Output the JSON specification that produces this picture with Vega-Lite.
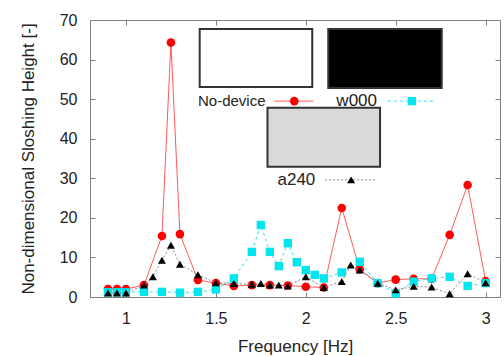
{
  "$schema": "https://vega.github.io/schema/vega-lite/v6.json",
  "width": 410,
  "height": 277,
  "autosize": "none",
  "padding": {"left": 90, "top": 20, "right": 4, "bottom": 59},
  "background": "white",
  "config": {
    "font": "Liberation Sans",
    "view": {"stroke": "#808080", "strokeWidth": 1},
    "axis": {"grid": false, "domainColor": "#808080", "tickColor": "#808080", "labelColor": "#222", "titleColor": "#222", "labelFont": "Liberation Sans", "titleFont": "Liberation Sans", "labelFontSize": 16, "titleFontSize": 17, "titleFontWeight": "normal", "tickSize": -5}
  },
  "datasets": {
    "nodevice": [
      {"f": 0.9, "h": 2.0}, {"f": 0.95, "h": 2.0}, {"f": 1.0, "h": 2.0}, {"f": 1.1, "h": 3.0},
      {"f": 1.2, "h": 15.4}, {"f": 1.25, "h": 64.3}, {"f": 1.3, "h": 15.9}, {"f": 1.4, "h": 4.3},
      {"f": 1.5, "h": 3.5}, {"f": 1.6, "h": 2.8}, {"f": 1.7, "h": 3.0}, {"f": 1.8, "h": 3.0},
      {"f": 1.9, "h": 2.9}, {"f": 2.0, "h": 2.6}, {"f": 2.1, "h": 2.4}, {"f": 2.2, "h": 22.5},
      {"f": 2.3, "h": 7.0}, {"f": 2.4, "h": 3.5}, {"f": 2.5, "h": 4.4}, {"f": 2.6, "h": 4.6},
      {"f": 2.7, "h": 4.6}, {"f": 2.8, "h": 15.7}, {"f": 2.9, "h": 28.3}, {"f": 3.0, "h": 4.0}
    ],
    "w000": [
      {"f": 0.9, "h": 1.2}, {"f": 0.95, "h": 1.2}, {"f": 1.0, "h": 1.2}, {"f": 1.1, "h": 1.3},
      {"f": 1.2, "h": 1.3}, {"f": 1.3, "h": 1.1}, {"f": 1.4, "h": 1.3}, {"f": 1.5, "h": 1.9},
      {"f": 1.6, "h": 4.7}, {"f": 1.7, "h": 11.4}, {"f": 1.75, "h": 18.2}, {"f": 1.8, "h": 11.4},
      {"f": 1.85, "h": 7.8}, {"f": 1.9, "h": 13.6}, {"f": 1.95, "h": 8.8}, {"f": 2.0, "h": 6.8},
      {"f": 2.05, "h": 5.6}, {"f": 2.1, "h": 4.7}, {"f": 2.2, "h": 6.2}, {"f": 2.3, "h": 8.9},
      {"f": 2.4, "h": 3.5}, {"f": 2.5, "h": 0.9}, {"f": 2.6, "h": 3.9}, {"f": 2.7, "h": 4.7},
      {"f": 2.8, "h": 5.1}, {"f": 2.9, "h": 2.8}, {"f": 3.0, "h": 3.5}
    ],
    "a240": [
      {"f": 0.9, "h": 1.0}, {"f": 0.95, "h": 1.0}, {"f": 1.0, "h": 1.0}, {"f": 1.1, "h": 3.0},
      {"f": 1.15, "h": 5.1}, {"f": 1.2, "h": 9.3}, {"f": 1.25, "h": 13.1}, {"f": 1.3, "h": 8.3},
      {"f": 1.4, "h": 5.6}, {"f": 1.5, "h": 3.6}, {"f": 1.6, "h": 3.4}, {"f": 1.7, "h": 3.2},
      {"f": 1.75, "h": 3.4}, {"f": 1.8, "h": 3.0}, {"f": 1.85, "h": 3.0}, {"f": 1.9, "h": 2.8},
      {"f": 2.0, "h": 5.1}, {"f": 2.1, "h": 2.4}, {"f": 2.2, "h": 3.9}, {"f": 2.25, "h": 8.1},
      {"f": 2.3, "h": 6.8}, {"f": 2.4, "h": 3.5}, {"f": 2.5, "h": 1.8}, {"f": 2.6, "h": 2.7},
      {"f": 2.7, "h": 2.5}, {"f": 2.8, "h": 0.8}, {"f": 2.9, "h": 5.9}, {"f": 3.0, "h": 3.6}
    ],
    "one": [{}]
  },
  "resolve": {"axis": {"x": "independent", "y": "independent"}},
  "layer": [
    {
      "data": {"name": "nodevice"},
      "mark": {"type": "line", "color": "#ff5a5a", "strokeWidth": 1},
      "encoding": {
        "x": {"field": "f", "type": "quantitative", "scale": {"domain": [0.8, 3.08], "nice": false, "zero": false},
              "axis": {"orient": "bottom", "values": [1, 1.5, 2, 2.5, 3], "labelExpr": "'' + datum.value", "title": "Frequency [Hz]", "labelPadding": 18, "titlePadding": 12}},
        "y": {"field": "h", "type": "quantitative", "scale": {"domain": [0, 70], "nice": false},
              "axis": {"orient": "left", "values": [0, 10, 20, 30, 40, 50, 60, 70], "title": "Non-dimensional Sloshing Height [-]", "labelPadding": 18, "titlePadding": 22}}
      }
    },
    {
      "data": {"name": "nodevice"},
      "mark": {"type": "point", "shape": "circle", "filled": true, "color": "#ff0000", "size": 75, "opacity": 1},
      "encoding": {
        "x": {"field": "f", "type": "quantitative", "axis": null},
        "y": {"field": "h", "type": "quantitative", "axis": null}
      }
    },
    {
      "data": {"name": "w000"},
      "mark": {"type": "line", "color": "#33e0f0", "strokeWidth": 1, "strokeDash": [3, 3]},
      "encoding": {
        "x": {"field": "f", "type": "quantitative", "axis": {"orient": "top", "values": [1, 1.5, 2, 2.5, 3], "labels": false, "title": null, "domain": false, "ticks": true, "tickSize": -5}},
        "y": {"field": "h", "type": "quantitative", "axis": {"orient": "right", "values": [0, 10, 20, 30, 40, 50, 60, 70], "labels": false, "title": null, "domain": false, "ticks": true, "tickSize": -5}}
      }
    },
    {
      "data": {"name": "w000"},
      "mark": {"type": "point", "shape": "square", "filled": true, "color": "#00e5ee", "size": 70, "opacity": 1},
      "encoding": {
        "x": {"field": "f", "type": "quantitative", "axis": null},
        "y": {"field": "h", "type": "quantitative", "axis": null}
      }
    },
    {
      "data": {"name": "a240"},
      "mark": {"type": "line", "color": "#8a8a8a", "strokeWidth": 1, "strokeDash": [2, 2]},
      "encoding": {
        "x": {"field": "f", "type": "quantitative", "axis": null},
        "y": {"field": "h", "type": "quantitative", "axis": null}
      }
    },
    {
      "data": {"name": "a240"},
      "mark": {"type": "point", "shape": "triangle-up", "filled": true, "color": "#000000", "size": 65, "opacity": 1},
      "encoding": {
        "x": {"field": "f", "type": "quantitative", "axis": null},
        "y": {"field": "h", "type": "quantitative", "axis": null}
      }
    },
    {
      "data": {"name": "one"},
      "mark": {"type": "rect", "fill": "white", "stroke": "#333", "strokeWidth": 2},
      "encoding": {
        "x": {"datum": 1.41, "type": "quantitative", "axis": null}, "x2": {"datum": 2.036},
        "y": {"datum": 67.7, "type": "quantitative", "axis": null}, "y2": {"datum": 53.1}
      }
    },
    {
      "data": {"name": "one"},
      "mark": {"type": "rect", "fill": "black", "stroke": "#333", "strokeWidth": 2},
      "encoding": {
        "x": {"datum": 2.125, "type": "quantitative", "axis": null}, "x2": {"datum": 2.756},
        "y": {"datum": 67.7, "type": "quantitative", "axis": null}, "y2": {"datum": 52.8}
      }
    },
    {
      "data": {"name": "one"},
      "mark": {"type": "rect", "fill": "#d9d9d9", "stroke": "#333", "strokeWidth": 2},
      "encoding": {
        "x": {"datum": 1.787, "type": "quantitative", "axis": null}, "x2": {"datum": 2.413},
        "y": {"datum": 47.8, "type": "quantitative", "axis": null}, "y2": {"datum": 32.9}
      }
    },
    {
      "data": {"name": "one"},
      "mark": {"type": "text", "text": "No-device", "align": "right", "baseline": "middle", "fontSize": 15, "color": "#222"},
      "encoding": {"x": {"datum": 1.776, "type": "quantitative", "axis": null}, "y": {"datum": 49.5, "type": "quantitative", "axis": null}}
    },
    {
      "data": {"name": "one"},
      "mark": {"type": "text", "text": "w000", "align": "right", "baseline": "middle", "fontSize": 17, "color": "#222"},
      "encoding": {"x": {"datum": 2.396, "type": "quantitative", "axis": null}, "y": {"datum": 49.5, "type": "quantitative", "axis": null}}
    },
    {
      "data": {"name": "one"},
      "mark": {"type": "text", "text": "a240", "align": "right", "baseline": "middle", "fontSize": 17, "color": "#222"},
      "encoding": {"x": {"datum": 2.053, "type": "quantitative", "axis": null}, "y": {"datum": 29.6, "type": "quantitative", "axis": null}}
    },
    {
      "data": {"name": "one"},
      "mark": {"type": "rule", "color": "#ff5a5a", "strokeWidth": 1},
      "encoding": {"x": {"datum": 1.825, "type": "quantitative", "axis": null}, "x2": {"datum": 2.042}, "y": {"datum": 49.5, "type": "quantitative", "axis": null}}
    },
    {
      "data": {"name": "one"},
      "mark": {"type": "rule", "color": "#33e0f0", "strokeWidth": 1, "strokeDash": [3, 3]},
      "encoding": {"x": {"datum": 2.457, "type": "quantitative", "axis": null}, "x2": {"datum": 2.717}, "y": {"datum": 49.5, "type": "quantitative", "axis": null}}
    },
    {
      "data": {"name": "one"},
      "mark": {"type": "rule", "color": "#8a8a8a", "strokeWidth": 1, "strokeDash": [2, 2]},
      "encoding": {"x": {"datum": 2.108, "type": "quantitative", "axis": null}, "x2": {"datum": 2.385}, "y": {"datum": 29.6, "type": "quantitative", "axis": null}}
    },
    {
      "data": {"name": "one"},
      "mark": {"type": "point", "shape": "circle", "filled": true, "color": "#ff0000", "size": 75, "opacity": 1},
      "encoding": {"x": {"datum": 1.936, "type": "quantitative", "axis": null}, "y": {"datum": 49.5, "type": "quantitative", "axis": null}}
    },
    {
      "data": {"name": "one"},
      "mark": {"type": "point", "shape": "square", "filled": true, "color": "#00e5ee", "size": 70, "opacity": 1},
      "encoding": {"x": {"datum": 2.59, "type": "quantitative", "axis": null}, "y": {"datum": 49.5, "type": "quantitative", "axis": null}}
    },
    {
      "data": {"name": "one"},
      "mark": {"type": "point", "shape": "triangle-up", "filled": true, "color": "#000000", "size": 65, "opacity": 1},
      "encoding": {"x": {"datum": 2.252, "type": "quantitative", "axis": null}, "y": {"datum": 29.6, "type": "quantitative", "axis": null}}
    }
  ]
}
